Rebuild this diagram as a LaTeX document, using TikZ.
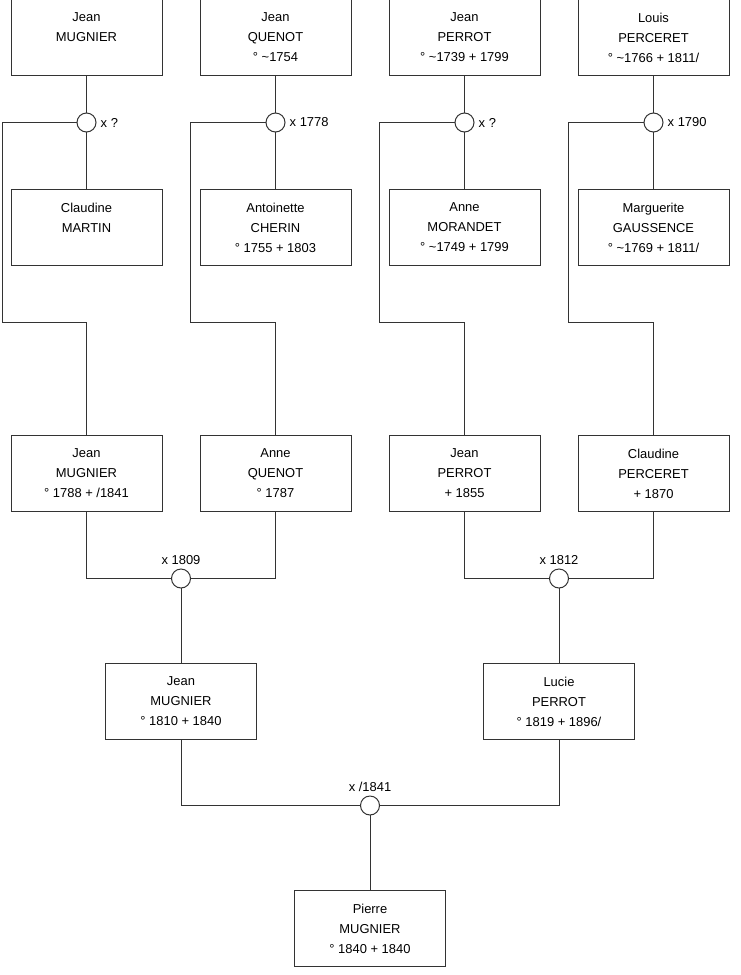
\documentclass[tikz,border=0pt]{standalone}
\usepackage{fontspec}
\setmainfont{Liberation Sans}
\usetikzlibrary{calc,positioning}
\definecolor{LineGrey}{HTML}{333333}

\begin{document}
\begin{tikzpicture}[
    x=0.75pt,y=-0.75pt,
    person/.style={draw=LineGrey,line width=0.75pt,align=center,
      minimum width=113.25pt,minimum height=57pt,inner sep=0pt,outer sep=0pt,
      font=\fontsize{9.7}{15}\selectfont},
    union/.style={circle,draw=LineGrey,fill=white,line width=0.75pt,
      minimum size=14.25pt,inner sep=0pt,outer sep=0pt,label distance=1.5pt},
    every label/.style={font=\fontsize{9.7}{12}\selectfont},
    link/.style={draw=LineGrey,line width=0.75pt}
  ]
    \useasboundingbox (0,0) rectangle (740,975);
    % grandparents
    \node[person] (a1) at (86.5,37.5) {Jean\\MUGNIER\\\mbox{}};
    \node[person,right=28.5pt of a1] (a2) {Jean\\QUENOT\\° \textasciitilde1754};
    \node[person,right=28.5pt of a2] (a3) {Jean\\PERROT\\° \textasciitilde1739 + 1799};
    \node[person,right=28.5pt of a3] (a4) {Louis\\PERCERET\\° \textasciitilde1766 + 1811/};
    \node[union,below=28.125pt of a1,label=east:x ?] (m1) {};
    \node[union,below=28.125pt of a2,label=east:x 1778] (m2) {};
    \node[union,below=28.125pt of a3,label=east:x ?] (m3) {};
    \node[union,below=28.125pt of a4,label=east:x 1790] (m4) {};
    \node[person,below=85.5pt of a1] (b1) {Claudine\\MARTIN\\\mbox{}};
    \node[person,below=85.5pt of a2] (b2) {Antoinette\\CHERIN\\° 1755 + 1803};
    \node[person,below=85.5pt of a3] (b3) {Anne\\MORANDET\\° \textasciitilde1749 + 1799};
    \node[person,below=85.5pt of a4] (b4) {Marguerite\\GAUSSENCE\\° \textasciitilde1769 + 1811/};
    % parents
    \node[person,below=127.5pt of b1] (c1) {Jean\\MUGNIER\\° 1788 + /1841};
    \node[person,below=127.5pt of b2] (c2) {Anne\\QUENOT\\° 1787};
    \node[person,below=127.5pt of b3] (c3) {Jean\\PERROT\\+ 1855};
    \node[person,below=127.5pt of b4] (c4) {Claudine\\PERCERET\\+ 1870};
    \coordinate (k1) at ($(b1.south west)+(-9,57)$);
    \coordinate (k2) at ($(b2.south west)+(-10,57)$);
    \coordinate (k3) at ($(b3.south west)+(-10,57)$);
    \coordinate (k4) at ($(b4.south west)+(-9.5,57)$);
    \node[union,label=above:x 1809] (m5) at ($(c1.south)!0.5!(c2.south)+(0,67)$) {};
    \node[union,label=above:x 1812] (m6) at ($(c3.south)!0.5!(c4.south)+(0,67)$) {};
    \node[person,below=56.625pt of m5] (d1) {Jean\\MUGNIER\\° 1810 + 1840};
    \node[person,below=56.625pt of m6] (d2) {Lucie\\PERROT\\° 1819 + 1896/};
    \node[union,label=above:x /1841] (m7) at ($(d1.south)!0.5!(d2.south)+(0,66)$) {};
    \node[person,below=56.625pt of m7] (e1) {Pierre\\MUGNIER\\° 1840 + 1840};

    \draw[link] (a1) -- (m1) -- (b1);
    \draw[link] (a2) -- (m2) -- (b2);
    \draw[link] (a3) -- (m3) -- (b3);
    \draw[link] (a4) -- (m4) -- (b4);
    \draw[link] (m1.west) -| (k1) -| (c1.north);
    \draw[link] (m2.west) -| (k2) -| (c2.north);
    \draw[link] (m3.west) -| (k3) -| (c3.north);
    \draw[link] (m4.west) -| (k4) -| (c4.north);
    \draw[link] (c1.south) |- (m5.west);
    \draw[link] (c2.south) |- (m5.east);
    \draw[link] (c3.south) |- (m6.west);
    \draw[link] (c4.south) |- (m6.east);
    \draw[link] (m5) -- (d1);
    \draw[link] (m6) -- (d2);
    \draw[link] (d1.south) |- (m7.west);
    \draw[link] (d2.south) |- (m7.east);
    \draw[link] (m7) -- (e1);
\end{tikzpicture}
\end{document}
